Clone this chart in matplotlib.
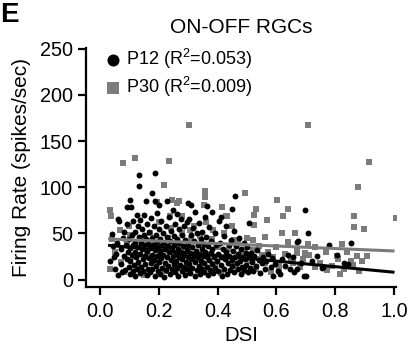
import numpy as np
import matplotlib
matplotlib.use("Agg")
from matplotlib import pyplot as plt

plt.rcParams['font.family'] = ['Liberation Sans', 'DejaVu Sans']
plt.rcParams['mathtext.fontset'] = 'custom'
plt.rcParams['mathtext.rm'] = 'Liberation Sans'

# P12 cells (DSI, firing rate)
p12 = [
    (0.035, 20), (0.04, 49), (0.045, 36), (0.05, 12), (0.055, 28), (0.06, 5), (0.06, 66), (0.058, 40), (0.048, 24),
    (0.065, 64), (0.07, 17), (0.072, 33), (0.075, 8), (0.078, 45), (0.08, 26), (0.082, 52), (0.085, 10), (0.088, 38),
    (0.09, 79), (0.09, 22), (0.092, 60), (0.095, 30), (0.097, 14), (0.098, 44), (0.1, 6), (0.1, 86), (0.1, 34),
    (0.103, 20), (0.105, 79), (0.107, 48), (0.108, 27), (0.11, 9), (0.112, 63), (0.113, 38), (0.115, 16), (0.117, 30),
    (0.118, 52), (0.12, 4), (0.12, 41), (0.122, 24), (0.124, 70), (0.125, 12), (0.127, 35), (0.128, 58), (0.13, 19),
    (0.132, 46), (0.133, 113), (0.133, 101), (0.134, 7), (0.135, 28), (0.137, 65), (0.138, 40), (0.14, 14), (0.142, 33),
    (0.143, 55), (0.145, 22), (0.147, 9), (0.148, 48), (0.15, 37), (0.15, 70),
    (0.152, 26), (0.154, 17), (0.155, 85), (0.156, 44), (0.158, 5), (0.16, 31), (0.16, 60), (0.162, 12), (0.164, 39),
    (0.165, 23), (0.167, 52), (0.168, 8), (0.17, 34), (0.172, 18), (0.174, 67), (0.175, 45), (0.176, 94), (0.177, 27),
    (0.178, 11), (0.18, 38), (0.182, 58), (0.183, 21), (0.185, 4), (0.186, 32), (0.188, 116), (0.188, 85), (0.189, 48),
    (0.19, 15), (0.192, 26), (0.194, 72), (0.195, 41), (0.196, 9), (0.198, 35), (0.2, 19), (0.2, 81), (0.2, 55),
    (0.202, 29), (0.204, 44), (0.205, 6), (0.207, 23), (0.208, 63), (0.21, 37), (0.212, 13), (0.213, 50), (0.215, 27),
    (0.217, 3), (0.218, 40), (0.22, 18), (0.222, 33), (0.224, 58), (0.225, 10), (0.227, 85), (0.227, 46), (0.228, 24),
    (0.23, 36), (0.232, 15), (0.234, 68), (0.235, 30), (0.237, 6), (0.238, 42), (0.24, 21), (0.242, 53), (0.243, 12),
    (0.245, 34), (0.247, 26), (0.248, 75), (0.25, 17), (0.25, 47),
    (0.252, 38), (0.254, 8), (0.255, 60), (0.257, 28), (0.258, 20), (0.26, 71), (0.26, 44), (0.262, 13), (0.264, 33),
    (0.265, 4), (0.267, 55), (0.268, 24), (0.27, 40), (0.272, 16), (0.274, 30), (0.275, 66), (0.277, 9), (0.278, 48),
    (0.28, 22), (0.282, 36), (0.284, 14), (0.285, 58), (0.287, 27), (0.288, 5), (0.29, 43), (0.292, 19), (0.294, 32),
    (0.295, 62), (0.297, 11), (0.298, 25), (0.3, 83), (0.3, 38),
    (0.302, 17), (0.303, 66), (0.305, 29), (0.307, 7), (0.308, 48), (0.31, 81), (0.31, 22), (0.312, 35), (0.314, 13),
    (0.316, 56), (0.318, 26), (0.32, 42), (0.322, 4), (0.323, 73), (0.324, 19), (0.326, 31), (0.328, 10), (0.33, 50),
    (0.332, 24), (0.333, 37), (0.335, 15), (0.337, 61), (0.338, 28), (0.34, 6), (0.342, 44), (0.344, 20), (0.345, 33),
    (0.347, 12), (0.348, 52), (0.35, 26),
    (0.352, 39), (0.354, 8), (0.355, 18), (0.357, 68), (0.358, 30), (0.36, 46), (0.362, 14), (0.364, 25), (0.365, 80),
    (0.366, 5), (0.368, 36), (0.37, 21), (0.372, 57), (0.374, 10), (0.376, 29), (0.378, 42), (0.38, 73), (0.38, 17),
    (0.382, 33), (0.385, 7), (0.387, 24), (0.39, 50), (0.392, 13), (0.395, 37), (0.397, 20), (0.4, 28),
    (0.402, 9), (0.405, 63), (0.407, 40), (0.41, 68), (0.41, 16), (0.412, 25), (0.415, 4), (0.417, 33), (0.42, 47),
    (0.422, 12), (0.425, 22), (0.427, 58), (0.43, 30), (0.432, 6), (0.435, 18), (0.437, 38), (0.44, 26), (0.442, 10),
    (0.445, 43), (0.448, 77), (0.448, 21),
    (0.45, 15), (0.452, 31), (0.455, 53), (0.457, 8), (0.459, 91), (0.46, 24), (0.463, 36), (0.465, 18), (0.468, 12),
    (0.47, 28), (0.473, 45), (0.475, 20), (0.478, 6), (0.48, 33), (0.483, 14), (0.485, 25), (0.488, 40), (0.49, 10),
    (0.493, 22), (0.495, 29), (0.498, 16),
    (0.5, 35), (0.503, 8), (0.505, 61), (0.507, 24), (0.51, 13), (0.513, 29), (0.517, 19), (0.52, 9), (0.525, 26),
    (0.53, 15), (0.535, 32), (0.54, 21), (0.545, 7), (0.55, 18), (0.555, 25), (0.56, 11), (0.565, 20), (0.57, 28),
    (0.58, 14), (0.585, 23), (0.59, 4), (0.595, 17),
    (0.605, 9), (0.612, 6), (0.62, 22), (0.63, 15), (0.638, 27), (0.645, 12), (0.655, 25), (0.66, 8), (0.67, 11),
    (0.67, 41), (0.675, 42), (0.685, 18), (0.694, 4), (0.697, 75), (0.70, 4), (0.709, 50), (0.72, 20), (0.738, 26),
    (0.755, 13), (0.76, 14), (0.78, 37), (0.806, 27), (0.83, 18), (0.845, 17), (0.853, 40),
]

# P30 cells (DSI, firing rate)
p30 = [
    (0.034, 75), (0.037, 69), (0.079, 126), (0.119, 132), (0.233, 128), (0.304, 167), (0.216, 102), (0.245, 86),
    (0.262, 83), (0.358, 96), (0.358, 89), (0.354, 81), (0.414, 79), (0.431, 69), (0.493, 94), (0.531, 76),
    (0.522, 70), (0.603, 86), (0.640, 76), (0.621, 69), (0.567, 65), (0.709, 168), (0.879, 100), (0.915, 127),
    (1.006, 67), (0.864, 69), (0.864, 57), (0.898, 55), (0.619, 50), (0.662, 50), (0.640, 41), (0.561, 46),
    (0.52, 43), (0.524, 59), (0.709, 39), (0.822, 39), (0.840, 30), (0.873, 26), (0.907, 26), (0.890, 20),
    (0.854, 20), (0.816, 6), (0.806, 26), (0.771, 10), (0.732, 14), (0.697, 29), (0.669, 29), (0.68, 14),
    (0.658, 18), (0.608, 12), (0.544, 22), (0.488, 32), (0.454, 43), (0.385, 54), (0.34, 47), (0.306, 54),
    (0.278, 69), (0.238, 69), (0.193, 84), (0.098, 58), (0.034, 11), (0.068, 54), (0.27, 85), (0.428, 69),
    (0.04, 44), (0.05, 30), (0.07, 19), (0.08, 8), (0.09, 40), (0.1, 48), (0.11, 25), (0.12, 36), (0.13, 14),
    (0.14, 45), (0.15, 5), (0.16, 28), (0.17, 50), (0.18, 38), (0.19, 20), (0.2, 62), (0.21, 33), (0.22, 9),
    (0.23, 45), (0.24, 56), (0.25, 27), (0.26, 38), (0.27, 15), (0.28, 50), (0.29, 35), (0.3, 8), (0.31, 44),
    (0.32, 58), (0.33, 22), (0.34, 12), (0.35, 38), (0.36, 62), (0.37, 28), (0.38, 44), (0.39, 17), (0.4, 35),
    (0.41, 7), (0.42, 50), (0.43, 24), (0.44, 33), (0.45, 58), (0.46, 15), (0.47, 40), (0.48, 28), (0.49, 9),
    (0.5, 45), (0.51, 20), (0.52, 32), (0.53, 12), (0.54, 36), (0.55, 27), (0.56, 18), (0.57, 30), (0.58, 8),
    (0.59, 24), (0.6, 35), (0.61, 17), (0.63, 28), (0.65, 20), (0.67, 33), (0.69, 22), (0.71, 27), (0.73, 35),
    (0.75, 18), (0.77, 30), (0.79, 15), (0.81, 22), (0.83, 12), (0.86, 16), (0.88, 9),
]

# linear fits (slope, intercept) and their DSI span
p12_fit = (-30.0, 38.0)
p30_fit = (-13.4, 44.4)
fit_span = (0.032, 0.997)

labels = ['P12 (R$^{2}$=0.053)', 'P30 (R$^{2}$=0.009)']
gray = '#7b7b7b'

p12_x, p12_y = np.array(p12).T
p30_x, p30_y = np.array(p30).T

fig = plt.figure(figsize=(4.12, 3.47), dpi=100)
ax = fig.add_axes([0.209, 0.173, 0.752, 0.689])

ax.scatter(p30_x, p30_y, marker='s', s=14, color=gray, linewidths=0, label=labels[1], zorder=2)
ax.scatter(p12_x, p12_y, marker='o', s=18, color='black', linewidths=0, label=labels[0], zorder=3)

xs = np.array(fit_span)
ax.plot(xs, p30_fit[0] * xs + p30_fit[1], color=gray, lw=2.2, zorder=4)
ax.plot(xs, p12_fit[0] * xs + p12_fit[1], color='black', lw=2.2, zorder=5)

ax.set_xlim(-0.048, 1.007)
ax.set_ylim(-8, 251)
ax.set_xticks([0.0, 0.2, 0.4, 0.6, 0.8, 1.0])
ax.set_xticklabels(['0.0', '0.2', '0.4', '0.6', '0.8', '1.0'])
ax.set_yticks([0, 50, 100, 150, 200, 250])

for s in ['top', 'right']:
    ax.spines[s].set_visible(False)
for s in ['left', 'bottom']:
    ax.spines[s].set_linewidth(1.6)
ax.tick_params(width=1.6, length=5.5, labelsize=14.3, pad=4)
ax.tick_params(axis='x', pad=5)

ax.set_xlabel('DSI', fontsize=14.7, labelpad=4)
ax.set_ylabel('Firing Rate (spikes/sec)', fontsize=15, labelpad=6)
ax.set_title('ON-OFF RGCs', fontsize=15, pad=11)

h, l = ax.get_legend_handles_labels()
leg = ax.legend(h[::-1], l[::-1], loc='upper left', bbox_to_anchor=(0.045, 1.035), frameon=False,
                fontsize=13, handlelength=0.6, handletextpad=0.45, labelspacing=0.22,
                borderaxespad=0)
leg.legend_handles[0].set_sizes([75])
leg.legend_handles[1].set_sizes([68])

fig.text(0.0, 0.995, 'E', fontsize=20, fontweight='bold', va='top', ha='left')

fig.savefig('out.png', dpi=100)
